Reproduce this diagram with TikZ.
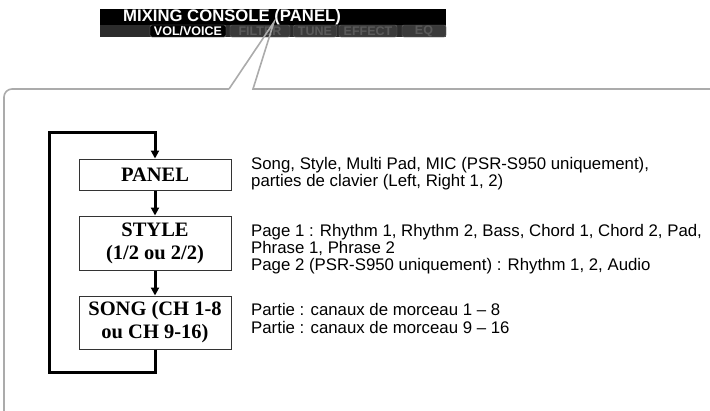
\documentclass[tikz,border=0pt]{standalone}
\usepackage{fontspec}
\setmainfont{Liberation Serif}
\setsansfont{Liberation Sans}
\usetikzlibrary{positioning, arrows.meta}
\definecolor{framegray}{HTML}{ABABAB}
\definecolor{tabrow}{HTML}{2C2C2C}
\definecolor{tabfill}{HTML}{3A3A3A}
\definecolor{tabtext}{HTML}{5A5A5A}

\begin{document}
\begin{tikzpicture}[x=1pt, y=-1pt,
    modebox/.style={draw=black!80, line width=1pt, minimum width=152pt,
                    align=center, inner sep=1pt,
                    font=\fontsize{20.5}{23}\selectfont\bfseries},
    desc/.style={anchor=west, align=left, inner sep=0pt,
                 font=\sffamily\fontsize{16.8}{17.3}\selectfont},
    flow/.style={-{Triangle[length=8pt, width=8pt]}, line width=3pt},
    callout/.style={draw=framegray, line width=1.6pt},
    tab/.style={draw=black!60, fill=tabfill, rounded corners=2pt,
                minimum height=12pt, inner sep=0pt, text=tabtext,
                font=\sffamily\bfseries\fontsize{12.5}{12.5}\selectfont},
]
\useasboundingbox (0,0) rectangle (710,410);

% --- Screenshot of the display ---
\fill[black] (100,9) rectangle (446,25);
\fill[tabrow] (100,25) rectangle (446,37);
\node[text=white, font=\sffamily\bfseries\fontsize{16.7}{16.7}\selectfont,
      anchor=west, inner sep=0pt] (title) at (123,17) {MIXING CONSOLE (PANEL)};
\node[tab, fill=black, draw=gray, text=white, minimum width=76pt] (vol) at (188,31) {VOL/VOICE};
\node[tab, minimum width=60pt] (filter) at (260,31) {FILTER};
\node[tab, minimum width=43pt] (tune) at (315,31) {TUNE};
\node[tab, minimum width=58pt] (effect) at (368,31) {EFFECT};
\node[tab, minimum width=44pt] (eq) at (424,31) {EQ};

% --- Callout frame ---
\coordinate (tip) at (274,22);
\coordinate (footl) at (229,89);
\coordinate (footr) at (253,89);
\draw[callout, rounded corners=8pt] (footl) -- (4,89) -- (4,412);
\draw[callout] (footl) -- (tip) -- (footr) -- (712,89);

% --- Modes ---
\node[modebox, minimum height=31pt] (panel) at (155,174.5) {PANEL};
\node[modebox, minimum height=54pt] (style) at (155,243) {STYLE\\(1/2 ou 2/2)};
\node[modebox, minimum height=53pt] (song) at (155,322.5) {SONG (CH 1-8\\ou CH 9-16)};

% --- Descriptions ---
\node[desc] (paneltxt) at (251,174) {Song, Style, Multi Pad, MIC (PSR-S950 uniquement),\\
    parties de clavier (Left, Right 1, 2)};
\node[desc] (styletxt) at (251,249) {Page 1 : Rhythm 1, Rhythm 2, Bass, Chord 1, Chord 2, Pad,\\
    Phrase 1, Phrase 2\\Page 2 (PSR-S950 uniquement) : Rhythm 1, 2, Audio};
\node[desc] (songtxt) at (251,318.5) {Partie : canaux de morceau 1 -- 8\\
    Partie : canaux de morceau 9 -- 16};

% --- Cycle ---
\coordinate (loopbot) at (49,372);
\coordinate (looptop) at (49,132);
\draw[flow] (panel) -- (style);
\draw[flow] (style) -- (song);
\draw[flow] (song.south) |- (loopbot) -- (looptop) -| (panel.north);
\end{tikzpicture}
\end{document}
